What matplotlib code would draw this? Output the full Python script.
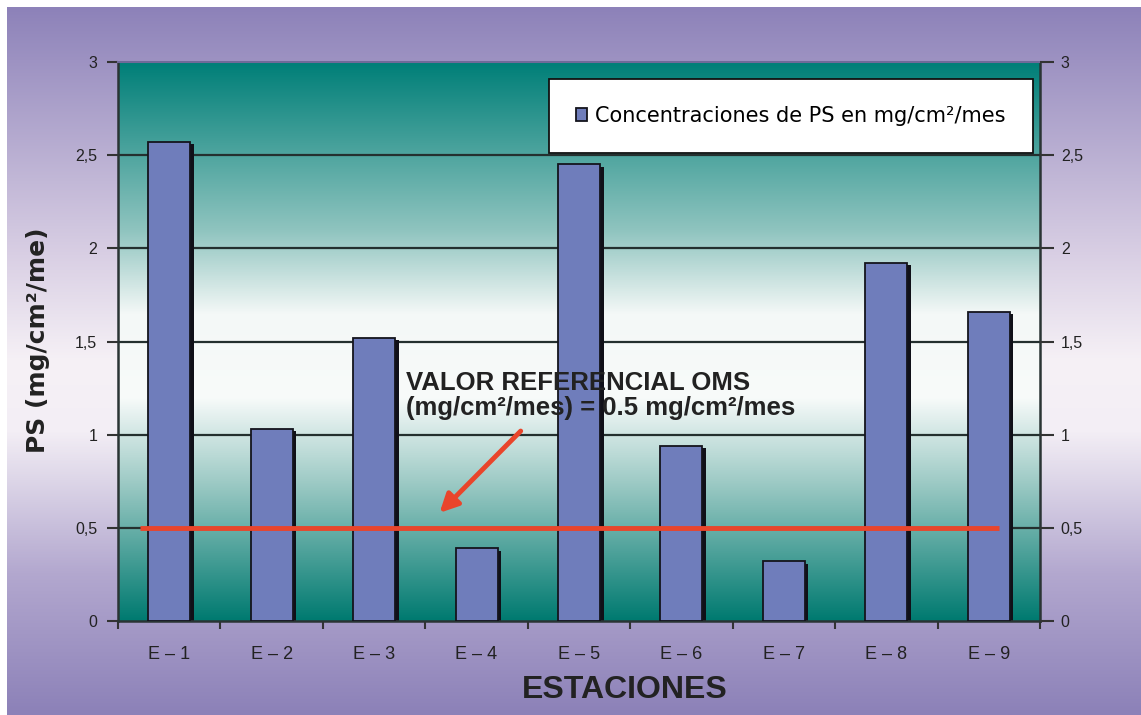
import numpy as np
import matplotlib.pyplot as plt
from matplotlib.colors import LinearSegmentedColormap

# data
estaciones = ["E – 1", "E – 2", "E – 3", "E – 4", "E – 5", "E – 6", "E – 7", "E – 8", "E – 9"]
concentraciones = [2.57, 1.03, 1.52, 0.39, 2.45, 0.94, 0.32, 1.92, 1.66]
valor_oms = 0.5
yticks = [0, 0.5, 1, 1.5, 2, 2.5, 3]
ytick_labels = ["0", "0,5", "1", "1,5", "2", "2,5", "3"]

plt.rcParams["font.family"] = ["Liberation Sans", "DejaVu Sans"]

W, H = 1141, 715
fig = plt.figure(figsize=(W / 100, H / 100), dpi=100, facecolor="white")

# purple -> white -> purple background
bg = fig.add_axes([7 / W, 0, 1 - 7 / W, 1 - 7 / H], zorder=-10)
bg_cmap = LinearSegmentedColormap.from_list(
    "bg", [(0, "#8d82b9"), (0.35, "#d9cfe4"), (0.5, "#f6f1f6"), (0.6, "#f3eef5"),
           (0.8, "#b3a8cf"), (1, "#8c81b8")])
bg.imshow(np.linspace(0, 1, 256).reshape(-1, 1), cmap=bg_cmap, aspect="auto",
          extent=(0, 1, 0, 1), origin="upper")
bg.axis("off")

ax = fig.add_axes([118 / W, 1 - 621 / H, (1040 - 118) / W, (621 - 62) / H])
x = np.arange(len(estaciones))
ax.set_xlim(-0.5, len(estaciones) - 0.5)
ax.set_ylim(0, 3)

# teal -> white -> teal plot area
pa_cmap = LinearSegmentedColormap.from_list(
    "pa", [(0, "#007f78"), (0.3, "#8fc4bf"), (0.45, "#f4f8f7"), (0.6, "#f8fbfa"),
           (0.75, "#9fcbc6"), (1, "#007a70")])
ax.imshow(np.linspace(0, 1, 256).reshape(-1, 1), cmap=pa_cmap, aspect="auto",
          extent=(-0.5, len(estaciones) - 0.5, 0, 3), origin="upper", zorder=0)

for yv in yticks[1:-1]:
    ax.axhline(yv, color="#24302f", lw=1.6, zorder=1)

# shadow then bars
vals = np.array(concentraciones)
ax.bar(x + 0.035, vals - 0.012, width=0.41, color="#101018", zorder=2)
ax.bar(x, vals, width=0.41, color="#6f7dbb", edgecolor="#14141c", lw=1.3,
       zorder=3, label="Concentraciones de PS en mg/cm²/mes")

ax.hlines(valor_oms, -0.29, 8.1, color="#e9452b", lw=3.5, zorder=4)

ax.annotate("", xy=(2.62, 0.57), xytext=(3.45, 1.03),
            arrowprops=dict(arrowstyle="-|>,head_length=1.1,head_width=0.55",
                            color="#e9452b", lw=3.5), zorder=5)
ax.text(2.31, 1.21, "VALOR REFERENCIAL OMS\n(mg/cm²/mes) = 0.5 mg/cm²/mes",
        fontsize=18.5, fontweight="bold", color="#222222", va="center", ha="left",
        linespacing=1.1, zorder=6)

ax.set_yticks(yticks)
ax.set_yticklabels(ytick_labels)
ax.tick_params(axis="y", which="major", direction="out", length=8, width=1.5,
               color="#333333", labelsize=11.5, labelcolor="#222222", pad=7)

ax2 = ax.twinx()
ax2.set_ylim(0, 3)
ax2.set_yticks(yticks)
ax2.set_yticklabels(ytick_labels)
ax2.tick_params(axis="y", which="major", direction="out", length=10, width=1.5,
                color="#333333", labelsize=11.5, labelcolor="#222222", pad=5)
for s in ax2.spines.values():
    s.set_visible(False)

ax.set_xticks(x)
ax.set_xticklabels(estaciones)
ax.set_xticks(np.arange(-0.5, len(estaciones)), minor=True)
ax.tick_params(axis="x", which="major", length=0, labelsize=13,
               labelcolor="#222222", pad=18)
ax.tick_params(axis="x", which="minor", direction="out", length=6, width=1.5,
               color="#333333")

for side in ["left", "right", "bottom"]:
    ax.spines[side].set_color("#2a3434")
    ax.spines[side].set_linewidth(1.8)
ax.spines["top"].set_color("#6f6a99")
ax.spines["top"].set_linewidth(1.5)

fig.text(625 / W, 1 - 690 / H, "ESTACIONES", fontsize=23, fontweight="bold",
         color="#222222", ha="center", va="center")
fig.text(38 / W, 1 - 340 / H, "PS (mg/cm²/me)", fontsize=18, fontweight="bold",
         family="DejaVu Sans", color="#222222", ha="center", va="center", rotation=90)

leg = ax.legend(loc="upper right", bbox_to_anchor=(0.9924, 0.9696),
                prop={"family": "DejaVu Sans", "size": 15},
                frameon=True, fancybox=False, handlelength=0.55, handleheight=0.55,
                handletextpad=0.4, borderpad=1.3, borderaxespad=0)
leg.get_frame().set_edgecolor("#111111")
leg.get_frame().set_linewidth(1.3)
leg.get_frame().set_alpha(1)
leg.set_zorder(10)

fig.savefig("out.png", dpi=100, facecolor=fig.get_facecolor())
